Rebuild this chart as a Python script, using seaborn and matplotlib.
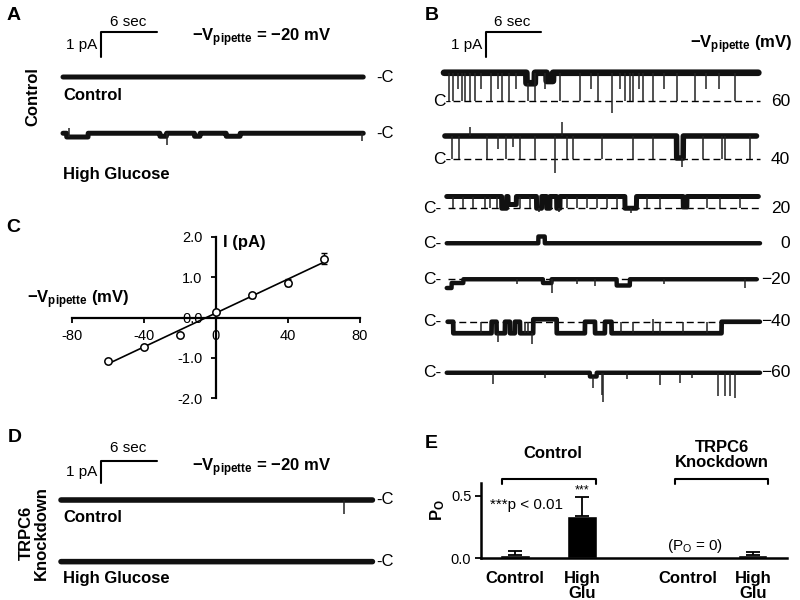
import numpy as np
import matplotlib
matplotlib.use('Agg')
import matplotlib.pyplot as plt
import seaborn as sns

sns.set_theme(style='white')
plt.rcParams['font.family'] = ['Liberation Sans', 'DejaVu Sans']
plt.rcParams['mathtext.fontset'] = 'custom'
plt.rcParams['mathtext.rm'] = 'Liberation Sans'
plt.rcParams['mathtext.bf'] = 'Liberation Sans:bold'
plt.rcParams['mathtext.it'] = 'Liberation Sans:italic'

# ------------------------------------------------------------------ data
# Panel C : single-channel I-V relation
iv_voltage = [-60, -40, -20, 0, 20, 40, 60]
iv_current = [-1.08, -0.72, -0.43, 0.13, 0.55, 0.86, 1.46]
iv_sem = [0.04, 0.03, 0.03, 0.03, 0.06, 0.09, 0.14]
iv_xticks = [-80, -40, 0, 40, 80]
iv_yticks = [-2.0, -1.0, 0.0, 1.0, 2.0]

# Panel E : open probability
po_labels = ['Control', 'High\nGlu', 'Control', 'High\nGlu']
po_pos = [0.0, 1.0, 2.58, 3.55]
po_values = [0.024, 0.338, 0.0, 0.024]
po_err = [0.037, 0.152, 0.0, 0.029]
po_yticks = [0.0, 0.5]

# Traces: times in s, currents in pA relative to the closed level
# steps = (start, end, level), spikes = (time, amplitude)
a_span = (0.0, 32.2)
a_ctrl_level = 0.0
a_ctrl_steps = []
a_ctrl_spikes = []
a_hg_level = 0.0
a_hg_steps = [(0.4, 2.7, -0.15), (10.4, 11.1, -0.12), (14.1, 14.7, -0.12), (17.5, 19.0, -0.12)]
a_hg_spikes = [(0.6, 0.2), (11.1, -0.45), (32.0, -0.3)]

b_voltages = ['60', '40', '20', '0', '\u221220', '\u221240', '\u221260']
b60_span = (0.0, 34.3)
b60_level = 1.13
b60_steps = [(9.0, 9.92, 0.71), (11.2, 11.9, 0.8)]
b60_spikes = [(0.58, 0.0), (1.02, 0.0), (2.0, 0.0), (2.29, 0.0), (2.84, 0.0), (3.38, 0.0),
              (5.09, 0.0), (6.29, 0.0), (7.12, 0.0), (9.2, 0.0), (9.92, 0.0), (12.65, 0.0),
              (14.83, 0.0), (16.83, 0.0), (18.28, -0.49), (19.74, 0.0), (20.28, 0.0),
              (20.65, 0.0), (21.74, 0.0), (22.83, 0.0), (25.37, 0.0), (27.37, 0.0), (31.73, 0.0),
              (1.5, 0.5), (4.0, 0.5), (5.9, 0.5), (7.9, 0.5), (11.0, 0.5), (16.0, 0.5),
              (19.2, 0.5), (21.3, 0.5), (24.0, 0.5), (28.6, 0.5), (30.0, 0.5)]
b40_span = (0.1, 34.1)
b40_level = 0.93
b40_steps = [(25.37, 26.1, 0.05)]
b40_spikes = [(0.84, 0.0), (1.67, 0.0), (4.65, 0.0), (6.76, 0.0), (8.29, 0.0), (9.92, 0.0),
              (13.38, 0.0), (14.1, 0.0), (17.19, 0.0), (20.65, 0.0), (22.83, 0.0), (28.28, 0.0),
              (30.28, 0.0), (30.64, 0.0), (33.37, 0.0), (12.1, -0.55), (12.83, 1.5), (2.84, 1.3),
              (5.93, 0.4), (7.56, 0.5), (26.0, -0.3)]
b20_span = (0.3, 34.3)
b20_level = 0.47
b20_steps = [(6.29, 6.83, 0.0), (7.0, 7.9, 0.15), (10.1, 10.65, 0.0), (11.2, 11.56, 0.0),
             (12.3, 12.65, 0.0), (19.74, 21.0, 0.0), (26.1, 26.5, 0.05)]
b20_spikes = [(1.02, 0.0), (2.11, 0.0), (3.2, 0.0), (4.47, 0.0), (5.02, 0.0), (5.74, 0.0),
              (8.29, 0.0), (9.38, 0.0), (13.38, 0.0), (14.47, 0.0), (15.56, 0.0), (16.65, 0.0),
              (17.74, 0.0), (18.83, 0.0), (22.1, 0.0), (23.56, 0.0), (28.65, 0.0), (30.1, 0.0),
              (32.28, 0.0), (20.4, -0.2), (10.4, -0.15), (12.5, -0.15)]
b0_span = (0.3, 34.46)
b0_level = 0.0
b0_steps = [(10.29, 11.0, 0.27)]
b0_spikes = []
bm20_span = (0.3, 34.1)
bm20_level = 0.0
bm20_steps = [(0.3, 0.84, -0.35), (0.84, 2.11, -0.15), (10.8, 11.74, -0.15), (18.83, 20.28, -0.25)]
bm20_spikes = [(11.8, -0.56), (32.83, -0.35), (8.0, -0.2), (14.5, -0.2), (16.5, -0.25), (24.0, -0.2)]
bm40_span = (0.4, 34.46)
bm40_level = -0.46
bm40_steps = [(0.4, 1.02, 0.0), (5.2, 5.74, 0.0), (6.65, 7.2, 0.0), (7.74, 8.29, 0.0),
              (9.74, 12.3, 0.1), (15.37, 16.47, 0.0), (17.56, 18.28, 0.0), (30.28, 34.46, 0.0)]
bm40_spikes = [(9.6, -0.9), (5.9, -0.8), (22.83, 0.1), (4.0, 0.0), (8.8, 0.0), (9.2, 0.0),
               (19.3, 0.0), (20.65, 0.0), (23.56, 0.0), (26.1, 0.0), (28.65, 0.0)]
bm60_span = (0.3, 34.46)
bm60_level = 0.0
bm60_steps = [(15.92, 16.65, -0.15)]
bm60_spikes = [(5.38, -0.45), (16.29, -0.6), (17.19, -0.9), (17.38, -1.16), (23.56, -0.5),
               (25.74, -0.4), (29.92, -0.95), (30.64, -0.95), (31.19, -0.95), (31.73, -1.0),
               (11.0, -0.2), (20.0, -0.25), (27.0, -0.2)]

d_span = (0.0, 33.4)
d_ctrl_level = 0.0
d_ctrl_steps = []
d_ctrl_spikes = [(30.3, -0.6)]
d_hg_level = 0.0
d_hg_steps = []
d_hg_spikes = []

# ------------------------------------------------------------------ figure
W, H = 800, 600
fig = plt.figure(figsize=(8, 6), dpi=100)
fig.patch.set_facecolor('white')


def px_axes(x0, y0, x1, y1):
    ax = fig.add_axes([x0 / W, 1 - y1 / H, (x1 - x0) / W, (y1 - y0) / H])
    ax.set_facecolor('none')
    return ax


def T(x, y, s, size=12, bold=False, ha='center', va='center', **kw):
    fig.text(x / W, 1 - y / H, s, fontsize=size, fontweight='bold' if bold else 'normal',
             ha=ha, va=va, color='black', **kw)


def draw_trace(ax, span, level, steps, spikes, offset, lw):
    t = np.arange(span[0], span[1], 0.02)
    y = np.full(t.shape, float(level))
    for a, b, lev in steps:
        y[(t >= a) & (t < b)] = lev
    sns.lineplot(x=t, y=y + offset, ax=ax, color='#111111', linewidth=lw,
                 estimator=None, sort=False, errorbar=None, legend=False)
    if spikes:
        st = np.array([s[0] for s in spikes])
        sa = np.array([s[1] for s in spikes])
        base = np.interp(st, t, y)
        ax.vlines(st, base + offset, sa + offset, color='#222222', lw=1.1)


def finish_trace_axes(ax, box, ox, sx, oy, sy):
    x0, y0, x1, y1 = box
    ax.set_xlim((x0 - ox) / sx, (x1 - ox) / sx)
    ax.set_ylim((oy - y1) / sy, (oy - y0) / sy)
    ax.axis('off')


VPIP = '\u2212V$_{\\mathbf{pipette}}$'

# ---------------- Panel A
boxA = (50, 5, 410, 195)
axA = px_axes(*boxA)
draw_trace(axA, a_span, a_ctrl_level, a_ctrl_steps, a_ctrl_spikes, 0.0, 3.6)
draw_trace(axA, a_span, a_hg_level, a_hg_steps, a_hg_spikes, -2.25, 3.6)
axA.plot([4.04, 4.04, 10.04], [0.8, 1.8, 1.8], color='black', lw=1.5)
finish_trace_axes(axA, boxA, 63, 9.33, 77, 25)
T(14, 15, 'A', 14, True)
T(128, 22, '6 sec', 11)
T(82, 45, '1 pA', 11)
T(262, 38, VPIP + ' = \u221220 mV', 12, True)
T(376, 77, '-C', 12, ha='left')
T(376, 133, '-C', 12, ha='left')
T(63, 95, 'Control', 12, True, ha='left')
T(63, 174, 'High Glucose', 12, True, ha='left')
T(33, 97, 'Control', 12, True, rotation=90)

# ---------------- Panel B
boxB = (420, 5, 800, 410)
axB = px_axes(*boxB)
b_offsets = [0.0, -2.33, -4.29, -5.69, -7.13, -8.83, -10.87]
b_widths = [4.8, 4.0, 3.6, 3.2, 3.2, 3.4, 3.2]
b_sets = [(b60_span, b60_level, b60_steps, b60_spikes),
          (b40_span, b40_level, b40_steps, b40_spikes),
          (b20_span, b20_level, b20_steps, b20_spikes),
          (b0_span, b0_level, b0_steps, b0_spikes),
          (bm20_span, bm20_level, bm20_steps, bm20_spikes),
          (bm40_span, bm40_level, bm40_steps, bm40_spikes),
          (bm60_span, bm60_level, bm60_steps, bm60_spikes)]
for i in (0, 1, 2, 4, 5):
    start = 0.98 if i < 2 else 0.45
    axB.plot([start, 34.46], [b_offsets[i], b_offsets[i]], color='black', lw=1.0,
             dashes=(5, 2.8))
for off, lw, (span, lev, steps, spikes) in zip(b_offsets, b_widths, b_sets):
    draw_trace(axB, span, lev, steps, spikes, off, lw)
axB.plot([4.55, 4.55, 10.55], [1.76, 2.76, 2.76], color='black', lw=1.5)
finish_trace_axes(axB, boxB, 444, 9.17, 101, 25)
T(425, 15, 'B', 14, True, ha='left')
T(512, 22, '6 sec', 11)
T(467, 45, '1 pA', 11)
T(792, 45, VPIP + ' (mV)', 12, True, ha='right')
b_ypx = [101, 159.3, 208.3, 243.3, 279.3, 321.7, 372.7]
for i, (yy, lab) in enumerate(zip(b_ypx, b_voltages)):
    T(433 if i < 2 else 423, yy, 'C-', 12.5, ha='left')
    T(790, yy, lab, 12.5, ha='right')

# ---------------- Panel C
axC = px_axes(71.7, 236.7, 360, 398.3)
sns.regplot(x=iv_voltage, y=iv_current, ax=axC, ci=None, scatter=False, truncate=True,
            line_kws=dict(color='black', lw=1.2))
axC.errorbar(iv_voltage, iv_current, yerr=iv_sem, fmt='none', ecolor='black',
             elinewidth=1.0, capsize=2.5, capthick=1.0, zorder=4)
sns.scatterplot(x=iv_voltage, y=iv_current, ax=axC, marker='o', s=28, color='white',
                edgecolor='black', linewidth=1.1, zorder=5, legend=False)
axC.set_xlim(-80, 80)
axC.set_ylim(-2, 2)
for side in ('top', 'right'):
    axC.spines[side].set_visible(False)
for side in ('left', 'bottom'):
    axC.spines[side].set_position(('data', 0))
    axC.spines[side].set_linewidth(1.6)
    axC.spines[side].set_color('black')
axC.set_xticks(iv_xticks)
axC.set_xticklabels([str(v) for v in iv_xticks])
axC.set_yticks(iv_yticks)
axC.set_yticklabels([f'{v:.1f}' for v in iv_yticks])
axC.tick_params(axis='both', bottom=True, left=True, direction='out', length=3.5,
                width=1.3, labelsize=10.5, colors='black')
axC.tick_params(axis='x', pad=5)
axC.tick_params(axis='y', pad=6)
axC.set_xlabel('')
axC.set_ylabel('')
T(13, 227, 'C', 14, True)
T(27, 300, VPIP + ' (mV)', 12, True, ha='left')
T(223, 243, 'I (pA)', 12, True, ha='left')

# ---------------- Panel D
boxD = (50, 430, 410, 595)
axD = px_axes(*boxD)
draw_trace(axD, d_span, d_ctrl_level, d_ctrl_steps, d_ctrl_spikes, 0.0, 4.0)
draw_trace(axD, d_span, d_hg_level, d_hg_steps, d_hg_spikes, -2.68, 4.0)
axD.plot([4.26, 4.26, 10.26], [0.73, 1.71, 1.71], color='black', lw=1.5)
finish_trace_axes(axD, boxD, 61, 9.33, 500, 23)
T(15, 438, 'D', 14, True)
T(128, 448, '6 sec', 11)
T(82, 472, '1 pA', 11)
T(262, 468, VPIP + ' = \u221220 mV', 12, True)
T(376, 500, '-C', 12, ha='left')
T(376, 562, '-C', 12, ha='left')
T(63, 518, 'Control', 12, True, ha='left')
T(63, 578, 'High Glucose', 12, True, ha='left')
T(34, 533, 'TRPC6\nKnockdown', 12, True, rotation=90, linespacing=1.05)

# ---------------- Panel E
axE = px_axes(481, 483.3, 786.7, 558.3)
sns.barplot(x=po_pos, y=po_values, ax=axE, native_scale=True, orient='x', color='black',
            saturation=1, width=0.45, errorbar=None, legend=False)
for p, v, e in zip(po_pos, po_values, po_err):
    if e > 0:
        axE.errorbar([p], [v], yerr=[[0], [e]], fmt='none', ecolor='black',
                     elinewidth=1.3, capsize=5, capthick=1.3)
axE.set_xlim(-0.507, 4.055)
axE.set_ylim(0, 0.6)
for side in ('top', 'right'):
    axE.spines[side].set_visible(False)
for side in ('left', 'bottom'):
    axE.spines[side].set_linewidth(1.8)
    axE.spines[side].set_color('black')
axE.set_yticks(po_yticks)
axE.set_yticklabels([f'{v:.1f}' for v in po_yticks])
axE.set_xticks(po_pos)
axE.set_xticklabels(po_labels, fontweight='bold', fontsize=12, linespacing=1.0)
axE.tick_params(axis='y', left=True, direction='out', length=4, width=1.3,
                labelsize=10.5, pad=3, colors='black')
axE.tick_params(axis='x', bottom=False, pad=3, colors='black')
axE.set_xlabel('')
axE.set_ylabel('')
T(425, 443, 'E', 14, True, ha='left')
T(553, 453, 'Control', 12, True)
T(722, 455, 'TRPC6\nKnockdown', 12, True, linespacing=1.05)
T(527, 505, '***p < 0.01', 11)
T(582, 490, '***', 9)
T(695, 546, '(P$_{\\mathrm{O}}$ = 0)', 11)
T(438, 510, 'P$_{\\mathbf{O}}$', 12, True, rotation=90)

# overlay for brackets
ov = fig.add_axes([0, 0, 1, 1])
ov.set_xlim(0, W)
ov.set_ylim(H, 0)
ov.axis('off')
ov.plot([501.7, 501.7, 596, 596], [484, 479, 479, 484], color='black', lw=1.5)
ov.plot([675, 675, 768.3, 768.3], [484, 479, 479, 484], color='black', lw=1.5)

fig.savefig('out.png', dpi=100, facecolor='white')
